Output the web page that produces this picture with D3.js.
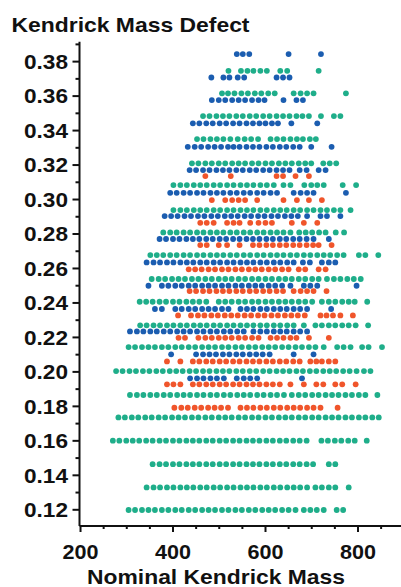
<!DOCTYPE html>
<html>
<head>
<meta charset="utf-8">
<script src="https://cdn.jsdelivr.net/npm/d3@7"></script>
<style>
  body { margin: 0; background: #fff; }
  text { font-family: "Liberation Sans", Arial, sans-serif; font-weight: bold; fill: #111; }
</style>
</head>
<body>
<script>
"use strict";

// axis ticks
var xTicks = [200, 400, 600, 800];
var xMinorTicks = [250, 300, 350, 450, 500, 550, 650, 700, 750, 850];
var yTicks = [0.12, 0.14, 0.16, 0.18, 0.20, 0.22, 0.24, 0.26, 0.28, 0.30, 0.32, 0.34, 0.36, 0.38];
var yMinorTicks = [0.13, 0.15, 0.17, 0.19, 0.21, 0.23, 0.25, 0.27, 0.29, 0.31, 0.33, 0.35, 0.37, 0.39];

// each row: [kendrick mass defect, [nominal kendrick masses]]
var greenRows = [
  [0.3744, [521, 548, 562, 575, 590, 604, 633, 648, 716]],
  [0.3613, [507, 520, 534, 549, 563, 578, 592, 607, 621, 662, 677, 691, 705, 775]],
  [0.3481, [466, 480, 495, 509, 523, 538, 552, 567, 581, 596, 610, 625, 639, 653, 668, 681, 695, 721, 749, 763]],
  [0.3348, [453, 467, 482, 496, 510, 525, 541, 556, 570, 585, 612, 626, 640, 655, 669, 682, 697, 710]],
  [0.3207, [442, 456, 471, 485, 500, 514, 529, 543, 557, 572, 586, 601, 615, 630, 644, 658, 673, 687, 700, 726, 740, 754]],
  [0.3081, [402, 417, 431, 446, 460, 474, 489, 503, 518, 532, 547, 561, 575, 590, 604, 619, 640, 655, 685, 700, 713, 727, 768, 797]],
  [0.2936, [402, 417, 431, 446, 460, 474, 489, 503, 518, 532, 547, 561, 575, 590, 604, 619, 633, 647, 662, 676, 691, 705, 720, 734, 749, 763, 785]],
  [0.2806, [380, 395, 409, 424, 438, 453, 467, 482, 496, 510, 525, 539, 554, 568, 583, 597, 612, 626, 640, 655, 674, 688, 702, 717, 731, 753, 771]],
  [0.2675, [352, 366, 380, 395, 409, 424, 438, 453, 467, 482, 496, 510, 525, 539, 554, 568, 583, 597, 612, 626, 640, 655, 669, 684, 698, 713, 727, 741, 756, 770, 803, 817, 845]],
  [0.2536, [355, 370, 384, 399, 413, 427, 442, 456, 471, 485, 500, 514, 528, 543, 557, 572, 586, 601, 615, 630, 644, 658, 673, 687, 702, 716, 734, 749, 763, 778, 792, 807]],
  [0.2404, [329, 343, 357, 372, 386, 401, 415, 430, 444, 458, 473, 500, 514, 528, 543, 557, 572, 586, 601, 615, 630, 644, 658, 673, 687, 702, 723, 738, 752, 767, 781, 794, 821]],
  [0.2267, [330, 344, 359, 373, 388, 402, 417, 431, 446, 460, 474, 489, 503, 518, 532, 547, 561, 575, 590, 604, 619, 633, 648, 662, 684, 709, 723, 738, 752, 767, 781, 796, 823]],
  [0.2141, [305, 319, 334, 348, 362, 377, 391, 406, 420, 435, 449, 464, 478, 492, 507, 521, 536, 550, 565, 579, 594, 608, 622, 637, 651, 666, 680, 695, 709, 727, 756, 770, 785, 810, 824, 853]],
  [0.2002, [278, 292, 307, 321, 336, 350, 365, 379, 394, 408, 422, 437, 451, 466, 480, 495, 509, 523, 538, 552, 567, 581, 596, 610, 625, 639, 653, 668, 682, 697, 711, 726, 740, 754, 769, 783, 798, 814, 828]],
  [0.1863, [308, 323, 337, 352, 366, 381, 395, 410, 424, 438, 453, 467, 482, 496, 511, 525, 540, 554, 568, 583, 597, 612, 626, 641, 658, 673, 687, 702, 716, 731, 745, 759, 774, 788, 803, 817, 843]],
  [0.1733, [283, 297, 312, 326, 341, 355, 370, 384, 399, 413, 427, 442, 456, 471, 485, 500, 514, 528, 543, 557, 572, 586, 601, 615, 630, 644, 658, 673, 687, 702, 716, 731, 745, 759, 774, 788, 803, 817, 832, 846]],
  [0.1598, [271, 285, 300, 314, 328, 343, 357, 372, 386, 401, 415, 430, 444, 458, 473, 487, 502, 516, 531, 545, 560, 574, 588, 603, 617, 632, 646, 661, 675, 690, 722, 736, 751, 765, 780, 794, 820]],
  [0.1462, [357, 372, 386, 401, 415, 430, 444, 458, 473, 487, 502, 516, 531, 545, 560, 574, 588, 603, 617, 632, 646, 661, 675, 690, 704, 738, 752]],
  [0.1327, [344, 359, 373, 388, 402, 417, 431, 445, 460, 474, 489, 503, 518, 532, 547, 561, 575, 590, 604, 619, 633, 648, 662, 676, 691, 709, 723, 738, 752, 781]],
  [0.1196, [305, 319, 334, 348, 362, 377, 391, 406, 420, 435, 449, 464, 478, 492, 507, 521, 536, 550, 565, 579, 594, 608, 622, 637, 651, 666, 684, 698, 712, 727, 755, 769]]
];

var blueRows = [
  [0.3841, [539, 552, 566, 651, 721]],
  [0.3705, [484, 510, 523, 541, 555, 625, 639, 653]],
  [0.3574, [485, 500, 514, 529, 543, 557, 572, 586, 599, 640, 668, 682]],
  [0.3439, [444, 458, 473, 487, 502, 516, 531, 545, 560, 574, 588, 601, 615, 628, 657, 713]],
  [0.3303, [433, 448, 462, 477, 491, 505, 520, 532, 545, 560, 574, 588, 603, 617, 632, 646, 661, 675, 700, 744]],
  [0.3168, [437, 451, 466, 480, 495, 509, 523, 538, 552, 567, 581, 596, 610, 625, 639, 653, 675, 690, 716, 731]],
  [0.3036, [395, 409, 424, 438, 453, 467, 482, 496, 510, 525, 539, 554, 568, 583, 597, 612, 626, 662, 677, 691, 705, 775]],
  [0.2901, [383, 397, 411, 426, 440, 455, 469, 484, 498, 513, 527, 541, 556, 570, 585, 599, 614, 628, 643, 657, 671, 691, 720, 734, 763]],
  [0.2768, [372, 386, 401, 415, 430, 444, 458, 473, 487, 502, 516, 531, 545, 560, 574, 588, 603, 617, 632, 646, 661, 675, 690, 705, 738]],
  [0.2632, [344, 359, 373, 388, 402, 417, 431, 445, 460, 474, 489, 503, 518, 532, 547, 561, 575, 590, 604, 619, 633, 648, 662, 682, 697, 723, 738, 752]],
  [0.2497, [348, 377, 391, 406, 420, 435, 449, 464, 478, 492, 507, 521, 536, 550, 565, 579, 593, 608, 622, 637, 655, 684, 698, 713, 798]],
  [0.2362, [362, 377, 406, 420, 435, 449, 464, 478, 492, 507, 521, 547, 561, 575, 590, 604, 619, 633, 647, 662, 676, 691, 743]],
  [0.2232, [308, 323, 337, 352, 366, 381, 395, 410, 424, 438, 453, 467, 482, 496, 511, 525, 540, 554, 575, 590, 604, 619, 633, 647, 662, 676, 691]],
  [0.2099, [397, 451, 466, 480, 494, 509, 523, 538, 552, 567, 581, 595, 610, 662, 705]],
  [0.1960, [438, 453, 467, 482, 496, 511, 539, 554, 568, 583, 680]]
];

var redRows = [
  [0.3133, [471, 526, 625, 639, 666, 695]],
  [0.2994, [485, 514, 529, 543, 557, 583, 640, 669, 695, 723]],
  [0.2862, [460, 474, 489, 518, 532, 545, 568, 586, 601, 615, 658, 684, 713]],
  [0.2733, [460, 474, 500, 518, 545, 574, 588, 603, 617, 632, 646, 661, 675, 690, 704, 716, 744]],
  [0.2592, [435, 449, 463, 478, 492, 507, 521, 536, 550, 565, 579, 593, 608, 622, 637, 651, 673, 687, 716, 731]],
  [0.2466, [437, 451, 466, 480, 495, 509, 523, 538, 552, 567, 581, 596, 610, 625, 639, 662, 677, 691, 705, 733]],
  [0.2325, [412, 440, 455, 469, 484, 498, 513, 527, 541, 556, 570, 585, 599, 614, 628, 643, 657, 671, 686, 720, 733, 747, 763, 790]],
  [0.2195, [413, 427, 456, 471, 485, 500, 514, 528, 543, 557, 572, 586, 612, 626, 640, 655, 668, 695, 738]],
  [0.2058, [388, 417, 444, 458, 473, 487, 502, 516, 531, 545, 560, 574, 588, 603, 617, 632, 646, 661, 675, 698, 711, 723, 738, 752]],
  [0.1925, [388, 402, 417, 444, 458, 473, 487, 502, 516, 531, 545, 560, 574, 588, 603, 617, 632, 655, 684, 711, 726, 752, 767, 796]],
  [0.1789, [404, 419, 433, 448, 462, 477, 491, 505, 520, 547, 561, 575, 590, 604, 619, 633, 648, 662, 676, 691, 705, 720, 757]]
];

var seriesColors = { green: "#1fae8a", blue: "#1b5db0", red: "#f0552b" };

var W = 401, H = 587;
var svg = d3.select("body").append("svg")
    .attr("width", W)
    .attr("height", H);

var x = d3.scaleLinear().domain([198, 893]).range([79.1, 400.5]);
var y = d3.scaleLinear().domain([0.1106, 0.3915]).range([525.5, 41.3]);

// flatten rows into points
function toPoints(rows) {
  var pts = [];
  rows.forEach(function(r) {
    r[1].forEach(function(m) { pts.push({ m: m, d: r[0] }); });
  });
  return pts;
}

var layers = [
  { rows: greenRows, color: seriesColors.green },
  { rows: blueRows, color: seriesColors.blue },
  { rows: redRows, color: seriesColors.red }
];

var plot = svg.append("g");
layers.forEach(function(l) {
  plot.append("g").selectAll("circle")
      .data(toPoints(l.rows))
      .enter().append("circle")
      .attr("cx", function(p) { return x(p.m); })
      .attr("cy", function(p) { return y(p.d); })
      .attr("r", 2.9)
      .attr("fill", l.color);
});

// y axis
var yMinor = svg.append("g").attr("transform", "translate(79,0)")
    .call(d3.axisLeft(y).tickValues(yMinorTicks).tickSize(3.5).tickFormat(""));
yMinor.select(".domain").remove();
var yAxis = svg.append("g").attr("transform", "translate(79,0)")
    .call(d3.axisLeft(y).tickValues(yTicks).tickSize(6.5).tickSizeOuter(0)
      .tickPadding(4.5).tickFormat(d3.format(".2f")));

// x axis
var xMinor = svg.append("g").attr("transform", "translate(0,525.5)")
    .call(d3.axisBottom(x).tickValues(xMinorTicks).tickSize(3.5).tickFormat(""));
xMinor.select(".domain").remove();
var xAxis = svg.append("g").attr("transform", "translate(0,525.5)")
    .call(d3.axisBottom(x).tickValues(xTicks).tickSize(6.5).tickSizeOuter(0));

svg.selectAll(".domain, .tick line").attr("stroke", "#111").attr("stroke-width", 2);

yAxis.selectAll("text")
    .attr("font-size", 20)
    .attr("dy", "0.36em")
    .attr("textLength", 44)
    .attr("lengthAdjust", "spacingAndGlyphs");
xAxis.selectAll("text")
    .attr("font-size", 20)
    .attr("y", 33.5)
    .attr("dy", 0)
    .attr("textLength", 36)
    .attr("lengthAdjust", "spacingAndGlyphs");
svg.selectAll(".tick text").attr("font-family", null).attr("fill", "#111");

// titles
svg.append("text")
    .attr("x", 11.5)
    .attr("y", 32)
    .attr("font-size", 21)
    .attr("textLength", 238)
    .attr("lengthAdjust", "spacingAndGlyphs")
    .text("Kendrick Mass Defect");

svg.append("text")
    .attr("x", 87)
    .attr("y", 583.5)
    .attr("font-size", 21)
    .attr("textLength", 258)
    .attr("lengthAdjust", "spacingAndGlyphs")
    .text("Nominal Kendrick Mass");
</script>
</body>
</html>
